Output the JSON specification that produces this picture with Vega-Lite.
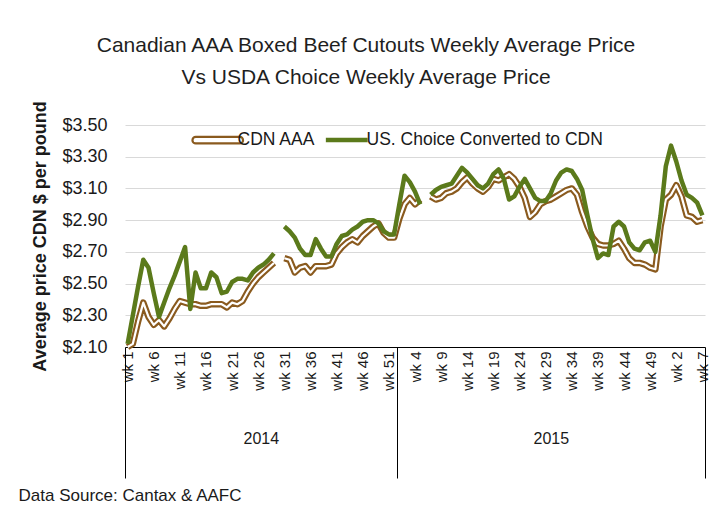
{
  "$schema": "https://vega.github.io/schema/vega-lite/v6.json",
  "width": 580,
  "height": 222,
  "autosize": {"type": "none"},
  "padding": {"left": 125, "top": 125, "right": 23, "bottom": 165},
  "background": "white",
  "config": {"font": "Liberation Sans", "view": {"stroke": null}},
  "title": {
    "text": ["Canadian AAA Boxed Beef Cutouts Weekly Average Price", "Vs USDA Choice Weekly Average Price"],
    "fontSize": 21,
    "fontWeight": "normal",
    "color": "#1f1f1f",
    "lineHeight": 32,
    "anchor": "middle",
    "frame": "group",
    "dx": -49,
    "offset": 13
  },
  "data": {
    "values": [
      {"i": 0, "year": 2014, "wk": 1, "cdn": 2.10, "us": 2.12},
      {"i": 1, "year": 2014, "wk": 2, "cdn": 2.12, "us": 2.30},
      {"i": 2, "year": 2014, "wk": 3, "cdn": 2.26, "us": 2.48},
      {"i": 3, "year": 2014, "wk": 4, "cdn": 2.38, "us": 2.65},
      {"i": 4, "year": 2014, "wk": 5, "cdn": 2.29, "us": 2.60},
      {"i": 5, "year": 2014, "wk": 6, "cdn": 2.24, "us": 2.44},
      {"i": 6, "year": 2014, "wk": 7, "cdn": 2.27, "us": 2.29},
      {"i": 7, "year": 2014, "wk": 8, "cdn": 2.23, "us": 2.38},
      {"i": 8, "year": 2014, "wk": 9, "cdn": 2.28, "us": 2.47},
      {"i": 9, "year": 2014, "wk": 10, "cdn": 2.34, "us": 2.55},
      {"i": 10, "year": 2014, "wk": 11, "cdn": 2.39, "us": 2.64},
      {"i": 11, "year": 2014, "wk": 12, "cdn": 2.38, "us": 2.73},
      {"i": 12, "year": 2014, "wk": 13, "cdn": 2.37, "us": 2.34},
      {"i": 13, "year": 2014, "wk": 14, "cdn": 2.37, "us": 2.57},
      {"i": 14, "year": 2014, "wk": 15, "cdn": 2.36, "us": 2.47},
      {"i": 15, "year": 2014, "wk": 16, "cdn": 2.36, "us": 2.47},
      {"i": 16, "year": 2014, "wk": 17, "cdn": 2.37, "us": 2.57},
      {"i": 17, "year": 2014, "wk": 18, "cdn": 2.37, "us": 2.54},
      {"i": 18, "year": 2014, "wk": 19, "cdn": 2.37, "us": 2.44},
      {"i": 19, "year": 2014, "wk": 20, "cdn": 2.35, "us": 2.45},
      {"i": 20, "year": 2014, "wk": 21, "cdn": 2.38, "us": 2.51},
      {"i": 21, "year": 2014, "wk": 22, "cdn": 2.37, "us": 2.53},
      {"i": 22, "year": 2014, "wk": 23, "cdn": 2.39, "us": 2.53},
      {"i": 23, "year": 2014, "wk": 24, "cdn": 2.45, "us": 2.52},
      {"i": 24, "year": 2014, "wk": 25, "cdn": 2.50, "us": 2.57},
      {"i": 25, "year": 2014, "wk": 26, "cdn": 2.54, "us": 2.60},
      {"i": 26, "year": 2014, "wk": 27, "cdn": 2.57, "us": 2.62},
      {"i": 27, "year": 2014, "wk": 28, "cdn": 2.60, "us": 2.65},
      {"i": 28, "year": 2014, "wk": 29, "cdn": 2.63, "us": 2.69},
      {"i": 29, "year": 2014, "wk": 30, "cdn": null, "us": null},
      {"i": 30, "year": 2014, "wk": 31, "cdn": 2.66, "us": 2.86},
      {"i": 31, "year": 2014, "wk": 32, "cdn": 2.65, "us": 2.83},
      {"i": 32, "year": 2014, "wk": 33, "cdn": 2.57, "us": 2.79},
      {"i": 33, "year": 2014, "wk": 34, "cdn": 2.60, "us": 2.72},
      {"i": 34, "year": 2014, "wk": 35, "cdn": 2.61, "us": 2.68},
      {"i": 35, "year": 2014, "wk": 36, "cdn": 2.57, "us": 2.68},
      {"i": 36, "year": 2014, "wk": 37, "cdn": 2.61, "us": 2.78},
      {"i": 37, "year": 2014, "wk": 38, "cdn": 2.61, "us": 2.72},
      {"i": 38, "year": 2014, "wk": 39, "cdn": 2.61, "us": 2.67},
      {"i": 39, "year": 2014, "wk": 40, "cdn": 2.62, "us": 2.67},
      {"i": 40, "year": 2014, "wk": 41, "cdn": 2.69, "us": 2.75},
      {"i": 41, "year": 2014, "wk": 42, "cdn": 2.73, "us": 2.80},
      {"i": 42, "year": 2014, "wk": 43, "cdn": 2.76, "us": 2.81},
      {"i": 43, "year": 2014, "wk": 44, "cdn": 2.78, "us": 2.84},
      {"i": 44, "year": 2014, "wk": 45, "cdn": 2.76, "us": 2.86},
      {"i": 45, "year": 2014, "wk": 46, "cdn": 2.80, "us": 2.89},
      {"i": 46, "year": 2014, "wk": 47, "cdn": 2.83, "us": 2.90},
      {"i": 47, "year": 2014, "wk": 48, "cdn": 2.86, "us": 2.90},
      {"i": 48, "year": 2014, "wk": 49, "cdn": 2.88, "us": 2.88},
      {"i": 49, "year": 2014, "wk": 50, "cdn": 2.82, "us": 2.83},
      {"i": 50, "year": 2014, "wk": 51, "cdn": 2.79, "us": 2.81},
      {"i": 51, "year": 2014, "wk": 52, "cdn": 2.79, "us": 2.81},
      {"i": 52, "year": 2015, "wk": 1, "cdn": 2.91, "us": 3.00},
      {"i": 53, "year": 2015, "wk": 2, "cdn": 3.00, "us": 3.18},
      {"i": 54, "year": 2015, "wk": 3, "cdn": 3.04, "us": 3.14},
      {"i": 55, "year": 2015, "wk": 4, "cdn": 3.00, "us": 3.08},
      {"i": 56, "year": 2015, "wk": 5, "cdn": 3.03, "us": 3.00},
      {"i": 57, "year": 2015, "wk": 6, "cdn": null, "us": null},
      {"i": 58, "year": 2015, "wk": 7, "cdn": 3.05, "us": 3.06},
      {"i": 59, "year": 2015, "wk": 8, "cdn": 3.03, "us": 3.09},
      {"i": 60, "year": 2015, "wk": 9, "cdn": 3.04, "us": 3.11},
      {"i": 61, "year": 2015, "wk": 10, "cdn": 3.07, "us": 3.12},
      {"i": 62, "year": 2015, "wk": 11, "cdn": 3.08, "us": 3.13},
      {"i": 63, "year": 2015, "wk": 12, "cdn": 3.10, "us": 3.18},
      {"i": 64, "year": 2015, "wk": 13, "cdn": 3.14, "us": 3.23},
      {"i": 65, "year": 2015, "wk": 14, "cdn": 3.17, "us": 3.20},
      {"i": 66, "year": 2015, "wk": 15, "cdn": 3.13, "us": 3.16},
      {"i": 67, "year": 2015, "wk": 16, "cdn": 3.10, "us": 3.12},
      {"i": 68, "year": 2015, "wk": 17, "cdn": 3.08, "us": 3.10},
      {"i": 69, "year": 2015, "wk": 18, "cdn": 3.11, "us": 3.13},
      {"i": 70, "year": 2015, "wk": 19, "cdn": 3.16, "us": 3.19},
      {"i": 71, "year": 2015, "wk": 20, "cdn": 3.15, "us": 3.22},
      {"i": 72, "year": 2015, "wk": 21, "cdn": 3.17, "us": 3.16},
      {"i": 73, "year": 2015, "wk": 22, "cdn": 3.19, "us": 3.03},
      {"i": 74, "year": 2015, "wk": 23, "cdn": 3.16, "us": 3.05},
      {"i": 75, "year": 2015, "wk": 24, "cdn": 3.11, "us": 3.11},
      {"i": 76, "year": 2015, "wk": 25, "cdn": 3.04, "us": 3.16},
      {"i": 77, "year": 2015, "wk": 26, "cdn": 2.92, "us": 3.10},
      {"i": 78, "year": 2015, "wk": 27, "cdn": 2.95, "us": 3.04},
      {"i": 79, "year": 2015, "wk": 28, "cdn": 3.00, "us": 3.02},
      {"i": 80, "year": 2015, "wk": 29, "cdn": 3.02, "us": 3.02},
      {"i": 81, "year": 2015, "wk": 30, "cdn": 3.03, "us": 3.07},
      {"i": 82, "year": 2015, "wk": 31, "cdn": 3.05, "us": 3.15},
      {"i": 83, "year": 2015, "wk": 32, "cdn": 3.07, "us": 3.20},
      {"i": 84, "year": 2015, "wk": 33, "cdn": 3.09, "us": 3.22},
      {"i": 85, "year": 2015, "wk": 34, "cdn": 3.10, "us": 3.21},
      {"i": 86, "year": 2015, "wk": 35, "cdn": 3.06, "us": 3.16},
      {"i": 87, "year": 2015, "wk": 36, "cdn": 2.95, "us": 3.09},
      {"i": 88, "year": 2015, "wk": 37, "cdn": 2.86, "us": 2.93},
      {"i": 89, "year": 2015, "wk": 38, "cdn": 2.79, "us": 2.78},
      {"i": 90, "year": 2015, "wk": 39, "cdn": 2.75, "us": 2.66},
      {"i": 91, "year": 2015, "wk": 40, "cdn": 2.74, "us": 2.69},
      {"i": 92, "year": 2015, "wk": 41, "cdn": 2.74, "us": 2.68},
      {"i": 93, "year": 2015, "wk": 42, "cdn": 2.75, "us": 2.86},
      {"i": 94, "year": 2015, "wk": 43, "cdn": 2.77, "us": 2.89},
      {"i": 95, "year": 2015, "wk": 44, "cdn": 2.72, "us": 2.86},
      {"i": 96, "year": 2015, "wk": 45, "cdn": 2.66, "us": 2.76},
      {"i": 97, "year": 2015, "wk": 46, "cdn": 2.63, "us": 2.72},
      {"i": 98, "year": 2015, "wk": 47, "cdn": 2.63, "us": 2.71},
      {"i": 99, "year": 2015, "wk": 48, "cdn": 2.62, "us": 2.76},
      {"i": 100, "year": 2015, "wk": 49, "cdn": 2.60, "us": 2.77},
      {"i": 101, "year": 2015, "wk": 50, "cdn": 2.59, "us": 2.70},
      {"i": 102, "year": 2015, "wk": 51, "cdn": 2.86, "us": 2.93},
      {"i": 103, "year": 2015, "wk": 52, "cdn": 3.03, "us": 3.24},
      {"i": 104, "year": 2016, "wk": 1, "cdn": 3.06, "us": 3.37},
      {"i": 105, "year": 2016, "wk": 2, "cdn": 3.12, "us": 3.27},
      {"i": 106, "year": 2016, "wk": 3, "cdn": 3.05, "us": 3.15},
      {"i": 107, "year": 2016, "wk": 4, "cdn": 2.93, "us": 3.06},
      {"i": 108, "year": 2016, "wk": 5, "cdn": 2.92, "us": 3.04},
      {"i": 109, "year": 2016, "wk": 6, "cdn": 2.89, "us": 3.01},
      {"i": 110, "year": 2016, "wk": 7, "cdn": 2.90, "us": 2.93}
    ]
  },
  "layer": [
    {
      "mark": {"type": "line", "strokeWidth": 6.5, "strokeJoin": "round", "invalid": "break-paths-show-domains"},
      "encoding": {
        "x": {
          "field": "i", "type": "quantitative",
          "scale": {"domain": [-0.5, 110.5], "nice": false, "zero": false},
          "axis": {
            "values": [0, 5, 10, 15, 20, 25, 30, 35, 40, 45, 50, 55, 60, 65, 70, 75, 80, 85, 90, 95, 100, 105, 110],
            "labelExpr": "datum.value < 52 ? 'wk ' + (datum.value + 1) : datum.value < 104 ? 'wk ' + (datum.value - 51) : 'wk ' + (datum.value - 103)",
            "labelAngle": 270,
            "labelFontSize": 15,
            "labelColor": "#1a1a1a",
            "labelPadding": 4,
            "labelOverlap": false,
            "labelFlush": false,
            "labelBound": false,
            "ticks": false,
            "grid": false,
            "domain": true,
            "domainColor": "#000000",
            "domainWidth": 1,
            "title": null
          }
        },
        "y": {
          "field": "cdn", "type": "quantitative",
          "scale": {"domain": [2.1, 3.5], "nice": false, "zero": false},
          "axis": {
            "values": [2.1, 2.3, 2.5, 2.7, 2.9, 3.1, 3.3, 3.5],
            "format": "$.2f",
            "grid": true, "gridColor": "#D9D9D9", "gridWidth": 1.2,
            "domain": false, "ticks": false,
            "labelFontSize": 18, "labelColor": "#1a1a1a", "labelPadding": 18,
            "title": "Average price CDN $ per pound",
            "titleFontSize": 18, "titleFontWeight": "bold", "titleColor": "#1a1a1a", "titlePadding": 12
          }
        },
        "color": {
          "datum": "CDN AAA",
          "scale": {"domain": ["CDN AAA", "US. Choice Converted to CDN"], "range": ["#8a5a1e", "#5b7a1b"]},
          "legend": {
            "title": null,
            "orient": "none",
            "legendX": 84,
            "legendY": 6,
            "direction": "horizontal",
            "labelFontSize": 17.5,
            "labelColor": "#1a1a1a",
            "labelLimit": 400,
            "symbolSize": 1936,
            "labelOffset": 11,
            "columnPadding": 0,
            "encode": {
              "symbols": {
                "update": {
                  "shape": {"signal": "datum.value === 'CDN AAA' ? 'M-1,-0.15L1,-0.15A0.15,0.15,0,0,1,1,0.15L-1,0.15A0.15,0.15,0,0,1,-1,-0.15Z' : 'M-0.95,0L0.95,0'"},
                  "fill": {"signal": "datum.value === 'CDN AAA' ? 'white' : 'transparent'"},
                  "strokeWidth": {"signal": "datum.value === 'CDN AAA' ? 2.2 : 4.5"}
                }
              }
            }
          }
        }
      }
    },
    {
      "mark": {"type": "line", "strokeWidth": 2.2, "color": "white", "strokeJoin": "round", "invalid": "break-paths-show-domains"},
      "encoding": {
        "x": {
          "field": "i", "type": "quantitative",
          "scale": {"domain": [-0.5, 110.5], "nice": false, "zero": false},
          "axis": {
            "orient": "bottom",
            "values": [-0.5, 25.5, 51.5, 81, 110.5],
            "labelExpr": "datum.value == 25.5 ? '2014' : datum.value == 81 ? '2015' : ''",
            "ticks": true,
            "tickSize": 131,
            "tickColor": "#000000",
            "tickWidth": 1,
            "tickOpacity": {"condition": {"test": "datum.value == 25.5 || datum.value == 81", "value": 0}, "value": 1},
            "domain": false,
            "grid": false,
            "labelAngle": 0,
            "labelFontSize": 16,
            "labelColor": "#1a1a1a",
            "labelPadding": -48,
            "labelOverlap": false,
            "labelFlush": false,
            "labelBound": false,
            "title": "Data Source: Cantax & AAFC",
            "titleFontSize": 17,
            "titleFontWeight": "normal",
            "titleColor": "#1a1a1a",
            "titleAnchor": "start",
            "titleAlign": "left",
            "titleBaseline": "top",
            "titleX": -107,
            "titleY": 140
          }
        },
        "y": {
          "field": "cdn", "type": "quantitative",
          "scale": {"domain": [2.1, 3.5], "nice": false, "zero": false},
          "axis": {
            "values": [2.1, 2.3, 2.5, 2.7, 2.9, 3.1, 3.3, 3.5],
            "format": "$.2f",
            "grid": true, "gridColor": "#D9D9D9", "gridWidth": 1.2,
            "domain": false, "ticks": false,
            "labelFontSize": 18, "labelColor": "#1a1a1a", "labelPadding": 18,
            "title": "Average price CDN $ per pound",
            "titleFontSize": 18, "titleFontWeight": "bold", "titleColor": "#1a1a1a", "titlePadding": 12
          }
        }
      }
    },
    {
      "mark": {"type": "line", "strokeWidth": 4.5, "strokeJoin": "round", "invalid": "break-paths-show-domains"},
      "encoding": {
        "x": {
          "field": "i", "type": "quantitative",
          "scale": {"domain": [-0.5, 110.5], "nice": false, "zero": false},
          "axis": null
        },
        "y": {
          "field": "us", "type": "quantitative",
          "scale": {"domain": [2.1, 3.5], "nice": false, "zero": false},
          "axis": {
            "values": [2.1, 2.3, 2.5, 2.7, 2.9, 3.1, 3.3, 3.5],
            "format": "$.2f",
            "grid": true, "gridColor": "#D9D9D9", "gridWidth": 1.2,
            "domain": false, "ticks": false,
            "labelFontSize": 18, "labelColor": "#1a1a1a", "labelPadding": 18,
            "title": "Average price CDN $ per pound",
            "titleFontSize": 18, "titleFontWeight": "bold", "titleColor": "#1a1a1a", "titlePadding": 12
          }
        },
        "color": {"datum": "US. Choice Converted to CDN"}
      }
    }
  ],
  "resolve": {"axis": {"x": "independent"}}
}
